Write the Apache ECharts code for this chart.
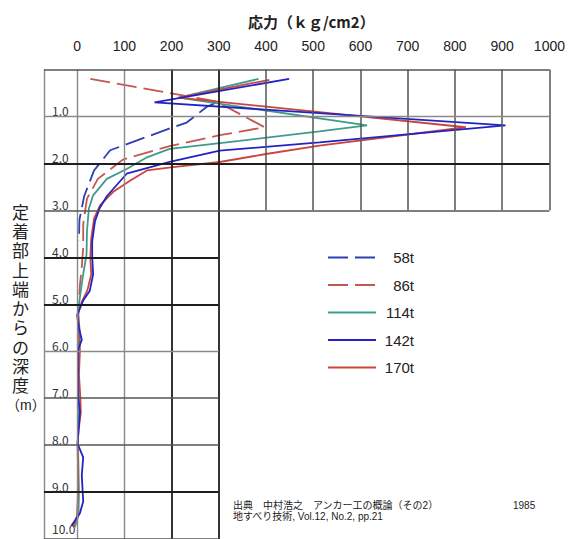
<!DOCTYPE html>
<html><head><meta charset="utf-8">
<script src="https://cdn.jsdelivr.net/npm/echarts@6/dist/echarts.min.js"></script>
<style>html,body{margin:0;padding:0;background:#fff}#c{width:568px;height:539px}</style>
</head><body><div id="c"></div>
<script>
// ---- data (stress kg/cm2, depth m) ----
const seriesNames = ['58t', '86t', '114t', '142t', '170t'];

const stress58 = [295, 274, 232, 203, 70, 36, 15, 5, 4];
const depth58  = [0.70, 0.80, 1.13, 1.23, 1.72, 2.15, 2.7, 3.2, 3.65];

const stress86 = [28, 295, 397, 302, 196, 97, 44, 21, 13, 13, 10, 6, 4];
const depth86  = [0.20, 0.68, 1.23, 1.40, 1.63, 1.92, 2.33, 2.75, 3.3, 3.8, 4.2, 4.6, 4.95];

const stress114 = [384, 215, 614, 513, 344, 196, 148, 105, 63, 34, 25, 21, 20, 13, 6, 3, 3, 3, 3, 2, 3, 4, 3, -5];
const depth114  = [0.20, 0.60, 1.19, 1.32, 1.52, 1.69, 1.87, 2.12, 2.33, 2.68, 2.96, 3.44, 3.94, 4.36, 4.85, 5.1, 5.5, 6.0, 7.0, 8.0, 8.5, 9.0, 9.5, 9.75];

const stress142 = [449, 164, 907, 513, 302, 196, 105, 63, 48, 38, 32, 32, 34, 27, 13, 0, 4, 10, 2, 2, 6, 1, 13, 10, 13, 6, -12];
const depth142  = [0.20, 0.70, 1.19, 1.55, 1.73, 1.97, 2.22, 2.70, 2.95, 3.23, 3.66, 3.97, 4.36, 4.71, 4.92, 5.23, 5.5, 5.76, 5.97, 6.9, 7.3, 7.97, 8.26, 8.64, 9.2, 9.45, 9.72];

const stress170 = [407, 215, 823, 513, 400, 302, 203, 148, 112, 76, 49, 36, 30, 28, 30, 22, 10, 2, 5, 6, 4, 7, 8, 3, 1, 2, 2, 0, -8];
const depth170  = [0.22, 0.60, 1.23, 1.62, 1.80, 1.97, 2.08, 2.15, 2.37, 2.61, 2.89, 3.17, 3.6, 4.0, 4.36, 4.7, 4.95, 5.2, 5.5, 6.0, 6.5, 7.0, 7.3, 7.7, 8.0, 8.5, 9.0, 9.5, 9.75];

const xTickValues = [0, 100, 200, 300, 400, 500, 600, 700, 800, 900, 1000];
const depthTickValues = [1, 2, 3, 4, 5, 6, 7, 8, 9, 10];

// grid frame lines (data coordinates)
const gridFullX = [-70, 0, 100, 200, 300];              // vertical, depth 0..10
const gridTopX = [400, 500, 600, 700, 800, 900, 1000];  // vertical, depth 0..3
const gridFullDepth = [0, 1, 2, 3];                     // horizontal, stress -70..1000
const gridLeftDepth = [4, 5, 6, 7, 8, 9, 10];           // horizontal, stress -70..300

const darkV = [200, 300];
const lightV = [0, 100, -70];
const darkH = [2, 4, 5, 9];
const lightH = [1, 6];

function gStyle(isDark, isLight) {
  if (isDark) return { color: '#1e1e1e', width: 1.8, type: 'solid' };
  if (isLight) return { color: '#8a8a8a', width: 1.4, type: 'solid' };
  return { color: '#555', width: 1.5, type: 'solid' };
}
const gridLines = [];
gridFullX.forEach(v => gridLines.push([{ coord: [v, 0], lineStyle: gStyle(darkV.includes(v), lightV.includes(v)) }, { coord: [v, 10] }]));
gridTopX.forEach(v => gridLines.push([{ coord: [v, 0], lineStyle: gStyle(false, false) }, { coord: [v, 3] }]));
gridFullDepth.forEach(v => gridLines.push([{ coord: [-70, v], lineStyle: gStyle(darkH.includes(v), lightH.includes(v)) }, { coord: [1000, v] }]));
gridLeftDepth.forEach(v => gridLines.push([{ coord: [-70, v], lineStyle: gStyle(darkH.includes(v), lightH.includes(v)) }, { coord: [300, v] }]));

function pairs(xs, ys) { return xs.map((x, i) => [x, ys[i]]); }

const latin = "'Liberation Sans', Arial, sans-serif";
const jp = "'Noto Sans CJK JP', sans-serif";
const mixed = "'Liberation Sans', 'Noto Sans CJK JP', sans-serif";

const chart = echarts.init(document.getElementById('c'), null, { renderer: 'svg' });

function lineSeries(name, xs, ys, color, dashed, z) {
  return {
    name: name, type: 'line', data: pairs(xs, ys), symbol: 'none', smooth: false,
    z: z,
    lineStyle: { color: color, width: 1.8, type: dashed ? [20, 7] : 'solid' },
    itemStyle: { color: color },
    emphasis: { disabled: true }, animation: false
  };
}

chart.setOption({
  animation: false,
  backgroundColor: '#fff',
  title: {
    text: '応力（ｋｇ/cm2）', left: 243, top: 9,
    textStyle: { fontFamily: jp, fontSize: 15, fontWeight: 'bold', color: '#222' }
  },
  grid: { left: 44, right: 17, top: 69.5, bottom: -5.5, containLabel: false },
  xAxis: {
    type: 'value', min: -70, max: 1000, position: 'top',
    axisLine: { show: false }, axisTick: { show: false }, splitLine: { show: false },
    axisLabel: { customValues: xTickValues, margin: 17, fontSize: 14, fontFamily: latin, color: '#222', formatter: v => String(v) }
  },
  yAxis: {
    type: 'value', min: 0, max: 10, inverse: true,
    axisLine: { show: false }, axisTick: { show: false }, splitLine: { show: false },
    axisLabel: {
      customValues: depthTickValues, inside: true, margin: 8, verticalAlign: 'bottom',
      formatter: v => (v === 10 ? '{b|' + v.toFixed(1) + '}' : v.toFixed(1)),
      fontSize: 12, fontFamily: jp, color: '#333',
      rich: { b: { fontSize: 12, fontFamily: jp, color: '#333', padding: [0, 0, 5, 0] } }
    }
  },
  legend: {
    data: seriesNames, orient: 'vertical', left: 322, top: 245,
    itemWidth: 48, itemHeight: 14, itemGap: 12.5,
    itemStyle: { opacity: 0 },
    formatter: n => '{a|' + n + '}',
    textStyle: { fontSize: 15, fontFamily: latin, color: '#222', rich: { a: { width: 33, align: 'right', fontSize: 15, fontFamily: latin, color: '#222' } } }
  },
  graphic: [
    { type: 'text', left: 12, top: 203.5, style: { text: '定\n着\n部\n上\n端\nか\nら\nの\n深\n度', font: '17px ' + mixed, lineHeight: 19.3, fill: '#222', textAlign: 'left' } },
    { type: 'text', left: 6, top: 397.5, style: { text: '（m）', font: '14px ' + mixed, fill: '#222' } },
    { type: 'text', left: 233, top: 499.5, style: { text: '出典　中村浩之　アンカー工の概論（その2）\n地すべり技術, Vol.12, No.2, pp.21', font: '10px ' + mixed, lineHeight: 11.5, fill: '#222' } },
    { type: 'text', left: 513, top: 499.5, style: { text: '1985', font: '10px ' + mixed, lineHeight: 11.5, fill: '#222' } }
  ],
  series: [
    { name: 'grid', type: 'line', data: [], silent: true, z: 1,
      markLine: { symbol: ['none', 'none'], silent: true, label: { show: false }, animation: false, data: gridLines } },
    lineSeries('58t', stress58, depth58, '#2d3db5', true, 3),
    lineSeries('86t', stress86, depth86, '#c4574f', true, 3),
    lineSeries('114t', stress114, depth114, '#3f9c8c', false, 3),
    lineSeries('170t', stress170, depth170, '#c9463d', false, 3),
    lineSeries('142t', stress142, depth142, '#2323c4', false, 4)
  ]
});
</script></body></html>
